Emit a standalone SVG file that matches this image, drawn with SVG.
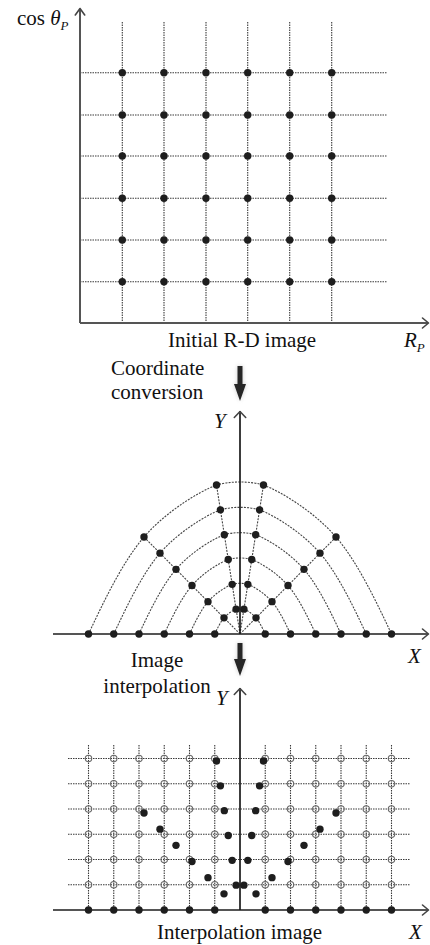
<svg xmlns="http://www.w3.org/2000/svg" width="430" height="945" viewBox="0 0 430 945">
<defs>
<style>
.grid{stroke:#3a3a3a;stroke-width:1.1;stroke-dasharray:1.5 1;fill:none}
.arc{stroke:#444;stroke-width:1.1;stroke-dasharray:2 1.2;fill:none}
.axis{stroke:#555;stroke-width:2;fill:none}
.yaxis{stroke:#1a1a1a;stroke-width:1.7;fill:none}
.head{stroke:#444;stroke-width:1.6;fill:none;stroke-linecap:round;stroke-linejoin:round}
.dot{fill:#1e1e1e}
.hollow{fill:none;stroke:#6a6a6a;stroke-width:1.1}
.lbl{font-family:"Liberation Serif","Times New Roman",serif;font-size:21px;fill:#111}
.it{font-style:italic}
.bigarrow{fill:#262626}
</style>
<filter id="glow" x="-50%" y="-50%" width="200%" height="200%"><feGaussianBlur stdDeviation="2"/></filter>
</defs>
<rect width="430" height="945" fill="#fff"/>

<g id="panel-rd">
  <path class="grid" d="M122.3 22V323M164 22V323M206 22V323M247.7 22V323M289.7 22V323M331.7 22V323M80 72.7H387M80 115H387M80 156H387M80 198.3H387M80 240H387M80 281.7H387"/>
  <path class="axis" d="M80 323V9M80 323H428"/>
  <polyline class="head" points="75.3,15 80,8.5 84.7,15"/>
  <polyline class="head" points="422.5,318 428.5,323 422.5,328"/>
  <g class="dot">
    <circle cx="122.3" cy="72.7" r="3.7"/><circle cx="164" cy="72.7" r="3.7"/><circle cx="206" cy="72.7" r="3.7"/><circle cx="247.7" cy="72.7" r="3.7"/><circle cx="289.7" cy="72.7" r="3.7"/><circle cx="331.7" cy="72.7" r="3.7"/>
    <circle cx="122.3" cy="115" r="3.7"/><circle cx="164" cy="115" r="3.7"/><circle cx="206" cy="115" r="3.7"/><circle cx="247.7" cy="115" r="3.7"/><circle cx="289.7" cy="115" r="3.7"/><circle cx="331.7" cy="115" r="3.7"/>
    <circle cx="122.3" cy="156" r="3.7"/><circle cx="164" cy="156" r="3.7"/><circle cx="206" cy="156" r="3.7"/><circle cx="247.7" cy="156" r="3.7"/><circle cx="289.7" cy="156" r="3.7"/><circle cx="331.7" cy="156" r="3.7"/>
    <circle cx="122.3" cy="198.3" r="3.7"/><circle cx="164" cy="198.3" r="3.7"/><circle cx="206" cy="198.3" r="3.7"/><circle cx="247.7" cy="198.3" r="3.7"/><circle cx="289.7" cy="198.3" r="3.7"/><circle cx="331.7" cy="198.3" r="3.7"/>
    <circle cx="122.3" cy="240" r="3.7"/><circle cx="164" cy="240" r="3.7"/><circle cx="206" cy="240" r="3.7"/><circle cx="247.7" cy="240" r="3.7"/><circle cx="289.7" cy="240" r="3.7"/><circle cx="331.7" cy="240" r="3.7"/>
    <circle cx="122.3" cy="281.7" r="3.7"/><circle cx="164" cy="281.7" r="3.7"/><circle cx="206" cy="281.7" r="3.7"/><circle cx="247.7" cy="281.7" r="3.7"/><circle cx="289.7" cy="281.7" r="3.7"/><circle cx="331.7" cy="281.7" r="3.7"/>
  </g>
  <text class="lbl" x="17" y="25">cos <tspan class="it">θ</tspan><tspan class="it" font-size="13" dy="5">P</tspan></text>
  <text class="lbl" x="168" y="347">Initial R-D image</text>
  <text class="lbl it" x="404" y="347">R<tspan font-size="13" dy="5">P</tspan></text>
</g>

<g id="step-conversion">
  <path d="M237.5 366H242.5V384H246L240 401L234 384H237.5Z" fill="#999" opacity="0.5" filter="url(#glow)"/>
  <path class="bigarrow" d="M237.5 366H242.5V384H246L240 401L234 384H237.5Z"/>
  <text class="lbl" x="111" y="375">Coordinate</text>
  <text class="lbl" x="111" y="399">conversion</text>
</g>

<g id="panel-polar">
  <g id="connectors">
    <path class="arc" d="M88.5,634 C104.2,600.5 122.7,561.8 144,537 C165.3,512.2 199,491.5 216.5,485 C230,481 250,481 263.5,485 C281,491.5 314.7,512.2 336,537 C357.3,561.8 375.8,600.5 391.5,634"/>
    <path class="arc" d="M113.75,634 C126.83,606.08 142.25,573.83 160,553.17 C177.75,532.5 205.83,515.25 220.42,509.83 C231.67,506.5 248.33,506.5 259.58,509.83 C274.17,515.25 302.25,532.5 320,553.17 C337.75,573.83 353.17,606.08 366.25,634"/>
    <path class="arc" d="M139,634 C149.47,611.67 161.8,585.87 176,569.33 C190.2,552.8 212.67,539 224.33,534.67 C233.33,532 246.67,532 255.67,534.67 C267.33,539 289.8,552.8 304,569.33 C318.2,585.87 330.53,611.67 341,634"/>
    <path class="arc" d="M164.25,634 C172.1,617.25 181.35,597.9 192,585.5 C202.65,573.1 219.5,562.75 228.25,559.5 C235,557.5 245,557.5 251.75,559.5 C260.5,562.75 277.35,573.1 288,585.5 C298.65,597.9 307.9,617.25 315.75,634"/>
    <path class="arc" d="M189.5,634 C194.73,622.83 200.9,609.93 208,601.67 C215.1,593.4 226.33,586.5 232.17,584.33 C236.67,583 243.33,583 247.83,584.33 C253.67,586.5 264.9,593.4 272,601.67 C279.1,609.93 285.27,622.83 290.5,634"/>
    <path class="arc" d="M214.75,634 C217.37,628.42 220.45,621.97 224,617.83 C227.55,613.7 233.17,610.25 236.08,609.17 C238.33,608.5 241.67,608.5 243.92,609.17 C246.83,610.25 252.55,613.7 256,617.83 C259.55,621.97 262.63,628.42 265.25,634"/>
    <path class="arc" d="M240 634L144 537M240 634L336 537M240 634L216.5 485M240 634L263.5 485"/>
  </g>
  <path class="axis" d="M53 634H428"/>
  <path class="yaxis" d="M240 634V411"/>
  <polyline class="head" points="422.5,629 428.5,634 422.5,639"/>
  <polyline class="head" points="234.3,417.5 240,411.5 245.7,417.5"/>
  <g class="dot">
    <circle cx="88.5" cy="634" r="3.7"/><circle cx="113.75" cy="634" r="3.7"/><circle cx="139" cy="634" r="3.7"/><circle cx="164.25" cy="634" r="3.7"/><circle cx="189.5" cy="634" r="3.7"/><circle cx="214.75" cy="634" r="3.7"/>
    <circle cx="265.25" cy="634" r="3.7"/><circle cx="290.5" cy="634" r="3.7"/><circle cx="315.75" cy="634" r="3.7"/><circle cx="341" cy="634" r="3.7"/><circle cx="366.25" cy="634" r="3.7"/><circle cx="391.5" cy="634" r="3.7"/>
    <circle cx="144" cy="537" r="3.7"/><circle cx="336" cy="537" r="3.7"/><circle cx="216.5" cy="485" r="3.7"/><circle cx="263.5" cy="485" r="3.7"/>
    <circle cx="160" cy="553.17" r="3.7"/><circle cx="320" cy="553.17" r="3.7"/><circle cx="220.42" cy="509.83" r="3.7"/><circle cx="259.58" cy="509.83" r="3.7"/>
    <circle cx="176" cy="569.33" r="3.7"/><circle cx="304" cy="569.33" r="3.7"/><circle cx="224.33" cy="534.67" r="3.7"/><circle cx="255.67" cy="534.67" r="3.7"/>
    <circle cx="192" cy="585.5" r="3.7"/><circle cx="288" cy="585.5" r="3.7"/><circle cx="228.25" cy="559.5" r="3.7"/><circle cx="251.75" cy="559.5" r="3.7"/>
    <circle cx="208" cy="601.67" r="3.7"/><circle cx="272" cy="601.67" r="3.7"/><circle cx="232.17" cy="584.33" r="3.7"/><circle cx="247.83" cy="584.33" r="3.7"/>
    <circle cx="224" cy="617.83" r="3.7"/><circle cx="256" cy="617.83" r="3.7"/><circle cx="236.08" cy="609.17" r="3.7"/><circle cx="243.92" cy="609.17" r="3.7"/>
  </g>
  <text class="lbl it" x="214" y="428">Y</text>
  <text class="lbl it" x="408" y="663">X</text>
</g>

<g id="step-interpolation">
  <path d="M237.5 643H242.5V659H246L240 676L234 659H237.5Z" fill="#999" opacity="0.5" filter="url(#glow)"/>
  <path class="bigarrow" d="M237.5 643H242.5V659H246L240 676L234 659H237.5Z"/>
  <text class="lbl" x="157" y="667" text-anchor="middle">Image</text>
  <text class="lbl" x="157" y="693" text-anchor="middle">interpolation</text>
</g>

<g id="panel-interp">
  <path class="grid" d="M88.5 745V910M113.75 745V910M139 745V910M164.25 745V910M189.5 745V910M214.75 745V910M265.25 745V910M290.5 745V910M315.75 745V910M341 745V910M366.25 745V910M391.5 745V910M68 758.5H410M68 783.75H410M68 809H410M68 834.25H410M68 859.5H410M68 884.75H410"/>
  <g class="hollow">
    <circle cx="88.5" cy="758.5" r="3.2"/><circle cx="113.75" cy="758.5" r="3.2"/><circle cx="139" cy="758.5" r="3.2"/><circle cx="164.25" cy="758.5" r="3.2"/><circle cx="189.5" cy="758.5" r="3.2"/><circle cx="214.75" cy="758.5" r="3.2"/><circle cx="265.25" cy="758.5" r="3.2"/><circle cx="290.5" cy="758.5" r="3.2"/><circle cx="315.75" cy="758.5" r="3.2"/><circle cx="341" cy="758.5" r="3.2"/><circle cx="366.25" cy="758.5" r="3.2"/><circle cx="391.5" cy="758.5" r="3.2"/>
    <circle cx="88.5" cy="783.75" r="3.2"/><circle cx="113.75" cy="783.75" r="3.2"/><circle cx="139" cy="783.75" r="3.2"/><circle cx="164.25" cy="783.75" r="3.2"/><circle cx="189.5" cy="783.75" r="3.2"/><circle cx="214.75" cy="783.75" r="3.2"/><circle cx="265.25" cy="783.75" r="3.2"/><circle cx="290.5" cy="783.75" r="3.2"/><circle cx="315.75" cy="783.75" r="3.2"/><circle cx="341" cy="783.75" r="3.2"/><circle cx="366.25" cy="783.75" r="3.2"/><circle cx="391.5" cy="783.75" r="3.2"/>
    <circle cx="88.5" cy="809" r="3.2"/><circle cx="113.75" cy="809" r="3.2"/><circle cx="139" cy="809" r="3.2"/><circle cx="164.25" cy="809" r="3.2"/><circle cx="189.5" cy="809" r="3.2"/><circle cx="214.75" cy="809" r="3.2"/><circle cx="265.25" cy="809" r="3.2"/><circle cx="290.5" cy="809" r="3.2"/><circle cx="315.75" cy="809" r="3.2"/><circle cx="341" cy="809" r="3.2"/><circle cx="366.25" cy="809" r="3.2"/><circle cx="391.5" cy="809" r="3.2"/>
    <circle cx="88.5" cy="834.25" r="3.2"/><circle cx="113.75" cy="834.25" r="3.2"/><circle cx="139" cy="834.25" r="3.2"/><circle cx="164.25" cy="834.25" r="3.2"/><circle cx="189.5" cy="834.25" r="3.2"/><circle cx="214.75" cy="834.25" r="3.2"/><circle cx="265.25" cy="834.25" r="3.2"/><circle cx="290.5" cy="834.25" r="3.2"/><circle cx="315.75" cy="834.25" r="3.2"/><circle cx="341" cy="834.25" r="3.2"/><circle cx="366.25" cy="834.25" r="3.2"/><circle cx="391.5" cy="834.25" r="3.2"/>
    <circle cx="88.5" cy="859.5" r="3.2"/><circle cx="113.75" cy="859.5" r="3.2"/><circle cx="139" cy="859.5" r="3.2"/><circle cx="164.25" cy="859.5" r="3.2"/><circle cx="189.5" cy="859.5" r="3.2"/><circle cx="214.75" cy="859.5" r="3.2"/><circle cx="265.25" cy="859.5" r="3.2"/><circle cx="290.5" cy="859.5" r="3.2"/><circle cx="315.75" cy="859.5" r="3.2"/><circle cx="341" cy="859.5" r="3.2"/><circle cx="366.25" cy="859.5" r="3.2"/><circle cx="391.5" cy="859.5" r="3.2"/>
    <circle cx="88.5" cy="884.75" r="3.2"/><circle cx="113.75" cy="884.75" r="3.2"/><circle cx="139" cy="884.75" r="3.2"/><circle cx="164.25" cy="884.75" r="3.2"/><circle cx="189.5" cy="884.75" r="3.2"/><circle cx="214.75" cy="884.75" r="3.2"/><circle cx="265.25" cy="884.75" r="3.2"/><circle cx="290.5" cy="884.75" r="3.2"/><circle cx="315.75" cy="884.75" r="3.2"/><circle cx="341" cy="884.75" r="3.2"/><circle cx="366.25" cy="884.75" r="3.2"/><circle cx="391.5" cy="884.75" r="3.2"/>
  </g>
  <path class="axis" d="M53 910H428"/>
  <path class="yaxis" d="M240 910V688"/>
  <polyline class="head" points="422.5,905 428.5,910 422.5,915"/>
  <polyline class="head" points="234.3,694.5 240,688.5 245.7,694.5"/>
  <g class="dot">
    <circle cx="88.5" cy="910" r="3.7"/><circle cx="113.75" cy="910" r="3.7"/><circle cx="139" cy="910" r="3.7"/><circle cx="164.25" cy="910" r="3.7"/><circle cx="189.5" cy="910" r="3.7"/><circle cx="214.75" cy="910" r="3.7"/>
    <circle cx="265.25" cy="910" r="3.7"/><circle cx="290.5" cy="910" r="3.7"/><circle cx="315.75" cy="910" r="3.7"/><circle cx="341" cy="910" r="3.7"/><circle cx="366.25" cy="910" r="3.7"/><circle cx="391.5" cy="910" r="3.7"/>
    <circle cx="144" cy="813" r="3.7"/><circle cx="336" cy="813" r="3.7"/><circle cx="216.5" cy="761" r="3.7"/><circle cx="263.5" cy="761" r="3.7"/>
    <circle cx="160" cy="829.17" r="3.7"/><circle cx="320" cy="829.17" r="3.7"/><circle cx="220.42" cy="785.83" r="3.7"/><circle cx="259.58" cy="785.83" r="3.7"/>
    <circle cx="176" cy="845.33" r="3.7"/><circle cx="304" cy="845.33" r="3.7"/><circle cx="224.33" cy="810.67" r="3.7"/><circle cx="255.67" cy="810.67" r="3.7"/>
    <circle cx="192" cy="861.5" r="3.7"/><circle cx="288" cy="861.5" r="3.7"/><circle cx="228.25" cy="835.5" r="3.7"/><circle cx="251.75" cy="835.5" r="3.7"/>
    <circle cx="208" cy="877.67" r="3.7"/><circle cx="272" cy="877.67" r="3.7"/><circle cx="232.17" cy="860.33" r="3.7"/><circle cx="247.83" cy="860.33" r="3.7"/>
    <circle cx="224" cy="893.83" r="3.7"/><circle cx="256" cy="893.83" r="3.7"/><circle cx="236.08" cy="885.17" r="3.7"/><circle cx="243.92" cy="885.17" r="3.7"/>
  </g>
  <text class="lbl it" x="216" y="705">Y</text>
  <text class="lbl it" x="409" y="939">X</text>
  <text class="lbl" x="157" y="939">Interpolation image</text>
</g>
</svg>
